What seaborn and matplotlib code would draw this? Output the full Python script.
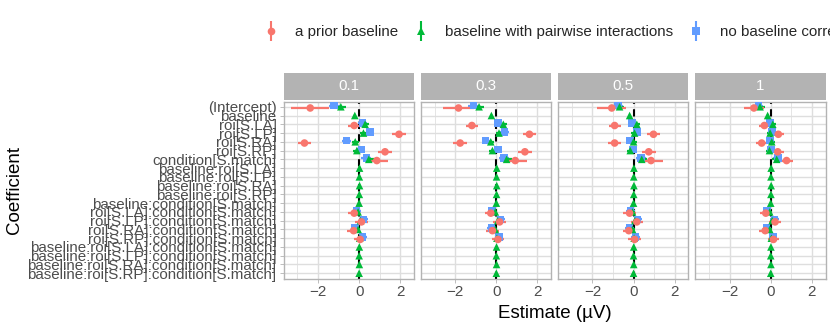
import numpy as np
import pandas as pd
import matplotlib
matplotlib.use("Agg")
import matplotlib.pyplot as plt
import seaborn as sns
from matplotlib.lines import Line2D

# ---------------- data ----------------
terms = ["(Intercept)", "baseline", "roi[S.LA]", "roi[S.LP]", "roi[S.RA]", "roi[S.RP]",
         "condition[S.match]", "baseline:roi[S.LA]", "baseline:roi[S.LP]",
         "baseline:roi[S.RA]", "baseline:roi[S.RP]", "baseline:condition[S.match]",
         "roi[S.LA]:condition[S.match]", "roi[S.LP]:condition[S.match]",
         "roi[S.RA]:condition[S.match]", "roi[S.RP]:condition[S.match]",
         "baseline:roi[S.LA]:condition[S.match]", "baseline:roi[S.LP]:condition[S.match]",
         "baseline:roi[S.RA]:condition[S.match]", "baseline:roi[S.RP]:condition[S.match]"]
facets = ["0.1", "0.3", "0.5", "1"]
models = ["a prior baseline", "baseline with pairwise interactions", "no baseline correction"]
x_ticks = [-2, 0, 2]
nan = np.nan

# a prior baseline (estimate, half-width of interval), per facet
prior_est_01 = [-2.38, nan, -0.24, 1.94, -2.66, 1.26, 0.86, nan, nan, nan, nan, nan, -0.24, 0.11, -0.27, 0.05, nan, nan, nan, nan]
prior_est_03 = [-1.84, nan, -1.19, 1.61, -1.76, 1.39, 0.92, nan, nan, nan, nan, nan, -0.27, 0.16, -0.19, 0.08, nan, nan, nan, nan]
prior_est_05 = [-1.06, nan, -0.92, 0.97, -0.92, 0.74, 0.85, nan, nan, nan, nan, nan, -0.19, 0.16, -0.23, 0.05, nan, nan, nan, nan]
prior_est_1 = [-0.82, nan, -0.31, 0.37, -0.44, 0.34, 0.77, nan, nan, nan, nan, nan, -0.24, 0.21, -0.27, 0.13, nan, nan, nan, nan]
prior_hw_01 = [0.93, nan, 0.29, 0.32, 0.32, 0.35, 0.54, nan, nan, nan, nan, nan, 0.3, 0.3, 0.3, 0.3, nan, nan, nan, nan]
prior_hw_03 = [0.77, nan, 0.3, 0.33, 0.33, 0.34, 0.55, nan, nan, nan, nan, nan, 0.3, 0.3, 0.3, 0.3, nan, nan, nan, nan]
prior_hw_05 = [0.71, nan, 0.29, 0.32, 0.32, 0.33, 0.56, nan, nan, nan, nan, nan, 0.3, 0.3, 0.3, 0.3, nan, nan, nan, nan]
prior_hw_1 = [0.47, nan, 0.28, 0.28, 0.28, 0.3, 0.33, nan, nan, nan, nan, nan, 0.28, 0.28, 0.28, 0.28, nan, nan, nan, nan]

# baseline with pairwise interactions
pair_est_01 = [-0.89, -0.21, 0.29, 0.21, -0.19, -0.11, 0.47, 0.02, 0.01, 0.02, 0.01, 0.0, -0.05, 0.07, -0.05, 0.03, 0.01, 0.0, 0.01, 0.0]
pair_est_03 = [-0.84, -0.24, 0.34, 0.13, -0.27, -0.19, 0.50, 0.02, 0.01, 0.02, 0.01, 0.0, -0.05, 0.07, -0.05, 0.03, 0.01, 0.0, 0.01, 0.0]
pair_est_05 = [-0.68, -0.19, 0.16, 0.05, 0.0, -0.16, 0.40, 0.02, 0.01, 0.02, 0.01, 0.0, -0.05, 0.07, -0.05, 0.03, 0.01, 0.0, 0.01, 0.0]
pair_est_1 = [-0.52, -0.15, 0.10, -0.03, 0.05, -0.06, 0.29, 0.02, 0.01, 0.02, 0.01, 0.0, -0.05, 0.07, -0.05, 0.03, 0.01, 0.0, 0.01, 0.0]
pair_hw_01 = [0.27, 0.08, 0.17, 0.17, 0.17, 0.17, 0.25, 0.05, 0.05, 0.05, 0.05, 0.05, 0.1, 0.1, 0.1, 0.1, 0.04, 0.04, 0.04, 0.04]
pair_hw_03 = [0.26, 0.08, 0.17, 0.17, 0.17, 0.17, 0.25, 0.05, 0.05, 0.05, 0.05, 0.05, 0.1, 0.1, 0.1, 0.1, 0.04, 0.04, 0.04, 0.04]
pair_hw_05 = [0.24, 0.08, 0.16, 0.16, 0.16, 0.16, 0.24, 0.05, 0.05, 0.05, 0.05, 0.05, 0.1, 0.1, 0.1, 0.1, 0.04, 0.04, 0.04, 0.04]
pair_hw_1 = [0.22, 0.07, 0.15, 0.15, 0.15, 0.15, 0.22, 0.05, 0.05, 0.05, 0.05, 0.05, 0.1, 0.1, 0.1, 0.1, 0.04, 0.04, 0.04, 0.04]

# no baseline correction
none_est_01 = [-1.21, nan, 0.16, 0.52, -0.61, 0.11, 0.35, nan, nan, nan, nan, nan, -0.13, 0.21, -0.19, 0.16, nan, nan, nan, nan]
none_est_03 = [-1.11, nan, 0.08, 0.40, -0.52, 0.08, 0.37, nan, nan, nan, nan, nan, -0.21, 0.21, -0.23, 0.13, nan, nan, nan, nan]
none_est_05 = [-0.76, nan, -0.06, 0.18, -0.16, -0.03, 0.37, nan, nan, nan, nan, nan, -0.15, 0.20, -0.20, 0.10, nan, nan, nan, nan]
none_est_1 = [-0.60, nan, -0.03, 0.05, -0.03, 0.0, 0.34, nan, nan, nan, nan, nan, -0.18, 0.18, -0.20, 0.10, nan, nan, nan, nan]
none_hw_01 = [0.28, nan, 0.2, 0.2, 0.2, 0.2, 0.25, nan, nan, nan, nan, nan, 0.2, 0.2, 0.2, 0.2, nan, nan, nan, nan]
none_hw_03 = [0.27, nan, 0.2, 0.2, 0.2, 0.2, 0.25, nan, nan, nan, nan, nan, 0.2, 0.2, 0.2, 0.2, nan, nan, nan, nan]
none_hw_05 = [0.25, nan, 0.19, 0.19, 0.19, 0.19, 0.24, nan, nan, nan, nan, nan, 0.2, 0.2, 0.2, 0.2, nan, nan, nan, nan]
none_hw_1 = [0.23, nan, 0.18, 0.18, 0.18, 0.18, 0.22, nan, nan, nan, nan, nan, 0.2, 0.2, 0.2, 0.2, nan, nan, nan, nan]

est_by = {
    models[0]: [prior_est_01, prior_est_03, prior_est_05, prior_est_1],
    models[1]: [pair_est_01, pair_est_03, pair_est_05, pair_est_1],
    models[2]: [none_est_01, none_est_03, none_est_05, none_est_1],
}
hw_by = {
    models[0]: [prior_hw_01, prior_hw_03, prior_hw_05, prior_hw_1],
    models[1]: [pair_hw_01, pair_hw_03, pair_hw_05, pair_hw_1],
    models[2]: [none_hw_01, none_hw_03, none_hw_05, none_hw_1],
}

# ---------------- styling ----------------
palette = {models[0]: "#F8766D", models[1]: "#00BA38", models[2]: "#619CFF"}
markers = {models[0]: "o", models[1]: "^", models[2]: "s"}
dodge = {models[0]: 0.14, models[1]: 0.0, models[2]: -0.14}
draw_order = [models[2], models[1], models[0]]

rows = []
for fi, f in enumerate(facets):
    for m in draw_order:
        for ti, t in enumerate(terms):
            e = est_by[m][fi][ti]
            h = hw_by[m][fi][ti]
            if np.isnan(e):
                continue
            rows.append(dict(facet=f, model=m, term=t, est=e, lo=e - h, hi=e + h,
                             ypos=ti + dodge[m]))
df = pd.DataFrame(rows)

sns.set_theme(style="white")
plt.rcParams["font.family"] = ["Liberation Sans", "DejaVu Sans"]

W, H = 830, 333
fig = plt.figure(figsize=(W / 100, H / 100), dpi=100)

def fx(px):
    return px / W

def fy(py):
    return 1 - py / H

grid_c = "#DEDEDE"
border_c = "#B3B3B3"
text_c = "#4D4D4D"
fs = 10.9

p_top, p_bot = 101.5, 278.5
s_top = 72.5
pw, gap, left0 = 130.5, 6.7, 283.5
xlim = (-3.68, 2.67)

for fi, f in enumerate(facets):
    L = left0 + fi * (pw + gap)
    ax = fig.add_axes([fx(L), fy(p_bot), pw / W, (p_bot - p_top) / H])
    ax.set_facecolor("white")
    for xm in [-3, -1, 1]:
        ax.axvline(xm, color=grid_c, lw=0.55, zorder=0)
    for xm in x_ticks:
        ax.axvline(xm, color=grid_c, lw=1.0, zorder=0)
    for yi in range(len(terms)):
        ax.axhline(yi, color=grid_c, lw=1.0, zorder=0)
    ax.axvline(0, color="black", lw=1.5, ls=(0, (3.5, 2.5)), zorder=2)

    sub = df[df.facet == f]
    ax.hlines(sub["ypos"], sub["lo"], sub["hi"], colors=[palette[m] for m in sub["model"]],
              lw=1.6, zorder=3)
    sns.scatterplot(data=sub, x="est", y="ypos", hue="model", style="model",
                    palette=palette, markers=markers, hue_order=models, style_order=models,
                    s=30, edgecolor="none", linewidth=0, legend=False, ax=ax, zorder=4)

    ax.set_xlim(*xlim)
    ax.set_ylim(len(terms) - 1 + 0.6, -0.6)
    ax.set_xticks(x_ticks)
    ax.set_xticklabels([str(v).replace("-", "\u2212") for v in x_ticks])
    ax.set_yticks(range(len(terms)))
    ax.set_xlabel("")
    ax.set_ylabel("")
    for sp in ax.spines.values():
        sp.set_color(border_c)
        sp.set_linewidth(1.0)
        sp.set_visible(True)
    ax.tick_params(axis="x", length=3, width=0.6, color=border_c, labelsize=fs,
                   labelcolor=text_c, pad=2, bottom=True)
    if fi == 0:
        ax.set_yticklabels(terms)
        ax.tick_params(axis="y", length=3, width=0.6, color=border_c, labelsize=fs,
                       labelcolor=text_c, pad=2, left=True)
    else:
        ax.tick_params(axis="y", left=False, labelleft=False)

    sax = fig.add_axes([fx(L), fy(p_top - 1.5), pw / W, (p_top - 1.5 - s_top) / H])
    sax.set_facecolor(border_c)
    sax.set_xticks([])
    sax.set_yticks([])
    for sp in sax.spines.values():
        sp.set_visible(False)
    sax.text(0.5, 0.5, f, color="white", fontsize=fs, ha="center", va="center",
             transform=sax.transAxes)

fig.text(fx(15), fy(190), "Coefficient", rotation=90, ha="center", va="center",
         fontsize=13.5, color="black")
fig.text(fx(554.5), fy(314), "Estimate (\u00b5V)", ha="center", va="center",
         fontsize=13.5, color="black")

handles = []
for m in models:
    c = palette[m]
    vline = Line2D([], [], marker="|", markersize=14, markeredgewidth=1.5, color=c,
                   linestyle="none")
    pt = Line2D([], [], marker=markers[m], markersize=5.5, color=c, linestyle="none",
                markeredgewidth=0)
    handles.append((vline, pt))
fig.legend(handles, models, loc="center left", bbox_to_anchor=(fx(263), fy(32)),
           ncol=3, frameon=False, fontsize=fs, handlelength=1.0, handletextpad=1.11,
           columnspacing=1.0, borderpad=0, borderaxespad=0)

fig.savefig("out.png", dpi=100)
